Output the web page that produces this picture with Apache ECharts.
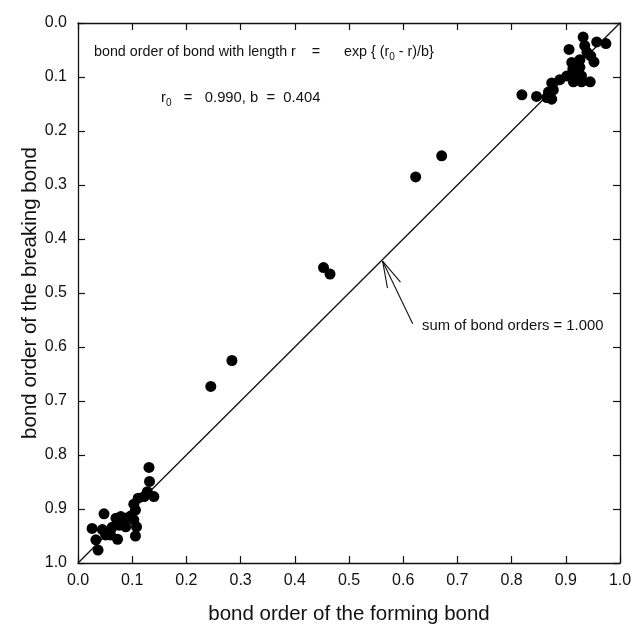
<!DOCTYPE html>
<html><head><meta charset="utf-8">
<script src="https://cdn.jsdelivr.net/npm/echarts@6/dist/echarts.min.js"></script>
<style>html,body{margin:0;padding:0;background:#fff}#c{width:631px;height:628px}</style>
</head><body><div id="c"></div>
<script>
// forming bond order (x) and breaking bond order (y)
const formingBO = [
  0.932,0.957,0.974,0.906,0.935,0.939,0.946,0.952,0.926,0.911,0.913,0.917,0.926,0.929,0.945,0.929,0.914,0.902,0.889,0.874,0.877,0.868,0.865,0.874,0.846,0.819,
  0.671,0.623,0.453,0.465,0.284,0.245,
  0.131,0.132,0.128,0.140,0.122,0.111,0.103,0.106,0.097,0.103,0.108,0.106,0.088,0.079,0.070,0.076,0.063,0.048,0.045,0.060,0.073,0.026,0.033,0.037,0.051,0.088
];
const breakingBO = [
  0.026,0.035,0.038,0.049,0.042,0.054,0.061,0.072,0.068,0.073,0.085,0.094,0.082,0.098,0.109,0.109,0.109,0.098,0.105,0.111,0.124,0.128,0.138,0.141,0.136,0.133,
  0.246,0.285,0.453,0.465,0.625,0.673,
  0.823,0.849,0.868,0.877,0.877,0.880,0.891,0.902,0.913,0.920,0.933,0.950,0.917,0.914,0.917,0.930,0.934,0.909,0.938,0.948,0.956,0.936,0.957,0.976,0.948,0.933
];
const sumLineX = [0, 1];
const sumLineY = [1, 0];
const arrowShaft = [[0.6175, 0.557], [0.562, 0.441]];
const arrowHead = [[0.571, 0.491], [0.562, 0.441], [0.595, 0.480]];
const tickLabels = ['0.0','0.1','0.2','0.3','0.4','0.5','0.6','0.7','0.8','0.9','1.0'];

const FONT = 'Liberation Sans, Arial, sans-serif';
const chart = echarts.init(document.getElementById('c'), null, {renderer: 'canvas'});
const pts = formingBO.map((v, i) => [v, breakingBO[i]]);
const lbl = v => tickLabels[Math.round(v * 10)];
function axis(extra) {
  return Object.assign({
    min: 0, max: 1, interval: 0.1, type: 'value',
    axisLine: {show: true, onZero: false, lineStyle: {color: '#111', width: 1.3}},
    axisTick: {show: true, inside: true, length: 7, lineStyle: {color: '#111', width: 1.2}},
    splitLine: {show: false}
  }, extra);
}
chart.setOption({
  animation: false,
  backgroundColor: '#fff',
  grid: {left: 78, top: 23, width: 542, height: 540, outerBoundsMode: 'none', containLabel: false},
  xAxis: [
    axis({position: 'bottom',
      name: 'bond order of the forming bond', nameLocation: 'middle', nameGap: 41, nameMoveOverlap: false,
      nameTextStyle: {fontFamily: FONT, fontSize: 20.5, color: '#111'},
      axisLabel: {fontFamily: FONT, fontSize: 16, color: '#111', margin: 10, formatter: lbl}}),
    axis({position: 'top', axisLabel: {show: false}})
  ],
  yAxis: [
    axis({position: 'left', inverse: true,
      name: 'bond order of the breaking bond', nameLocation: 'middle', nameGap: 37, nameMoveOverlap: false,
      nameTextStyle: {fontFamily: FONT, fontSize: 20.5, color: '#111'},
      axisLabel: {fontFamily: FONT, fontSize: 16, color: '#111', margin: 11, formatter: lbl}}),
    axis({position: 'right', inverse: true, axisLabel: {show: false}})
  ],
  series: [
    {type: 'line', data: sumLineX.map((v, i) => [v, sumLineY[i]]), symbol: 'none',
     lineStyle: {color: '#111', width: 1.3}, z: 3},
    {type: 'line', data: arrowShaft, symbol: 'none', lineStyle: {color: '#111', width: 1.1}, z: 3},
    {type: 'line', data: arrowHead, symbol: 'none', lineStyle: {color: '#111', width: 1.1}, z: 3},
    {type: 'scatter', data: pts, symbol: 'circle', symbolSize: 11,
     itemStyle: {color: '#000', opacity: 1}, z: 4}
  ],
  graphic: [
    {type: 'text', left: 94, top: 42, style: {
      text: 'bond order of bond with length r    =      exp { (r{s|0} - r)/b}',
      fontFamily: FONT, fontSize: 14.3, fill: '#111', lineHeight: 20,
      rich: {s: {fontFamily: FONT, fontSize: 10, lineHeight: 10, verticalAlign: 'bottom', fill: '#111'}}}},
    {type: 'text', left: 161, top: 88, style: {
      text: 'r{s|0}   =   0.990, b  =  0.404',
      fontFamily: FONT, fontSize: 14.8, fill: '#111', lineHeight: 20,
      rich: {s: {fontFamily: FONT, fontSize: 10, lineHeight: 10, verticalAlign: 'bottom', fill: '#111'}}}},
    {type: 'text', left: 422, top: 318, style: {
      text: 'sum of bond orders = 1.000',
      fontFamily: FONT, fontSize: 14.8, fill: '#111'}}
  ]
});
</script></body></html>
